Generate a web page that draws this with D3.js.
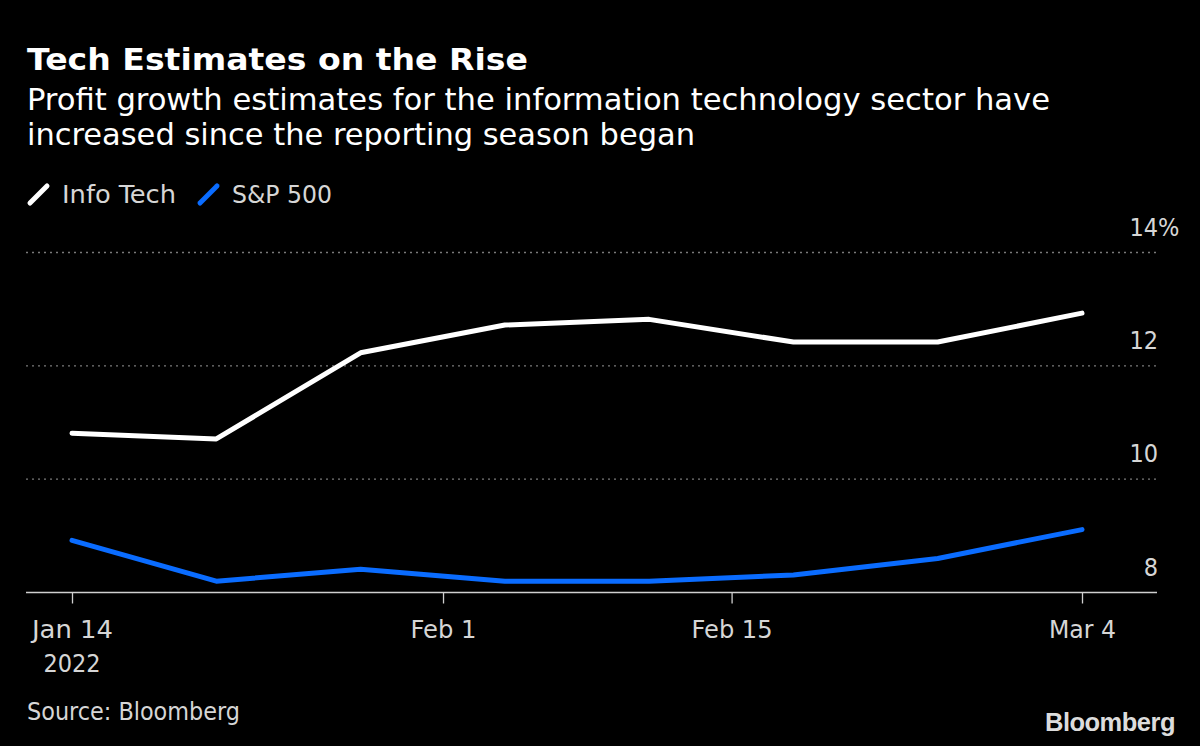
<!DOCTYPE html>
<html>
<head>
<meta charset="utf-8">
<script src="https://cdn.jsdelivr.net/npm/d3@7/dist/d3.min.js"></script>
<style>
  html, body { margin: 0; padding: 0; background: #000; }
  svg { display: block; }
</style>
</head>
<body>
<svg id="chart" width="1200" height="746"></svg>
<script>
// ---- data ----
const dates = ["2022-01-14","2022-01-21","2022-01-28","2022-02-04","2022-02-11","2022-02-18","2022-02-25","2022-03-04"];
const infoTech = [10.81, 10.71, 12.23, 12.72, 12.82, 12.42, 12.42, 12.93];
const sp500    = [8.92, 8.20, 8.41, 8.20, 8.20, 8.31, 8.60, 9.11];
const yTicks = [8, 10, 12, 14];
const xTickDates = ["2022-01-14","2022-02-01","2022-02-15","2022-03-04"];
const xTickLabels = ["Jan 14","Feb 1","Feb 15","Mar 4"];
const seriesNames = ["Info Tech","S&P 500"];
const seriesColors = ["#ffffff","#0a6cff"];

const xTickWidths = [81, 66, 81, 67];

const parse = d3.utcParse("%Y-%m-%d");
const svg = d3.select("#chart");
svg.append("rect").attr("width",1200).attr("height",746).attr("fill","#000");

const x = d3.scaleUtc().domain([parse("2022-01-14"), parse("2022-03-04")]).range([72, 1082]);
const y = d3.scaleLinear().domain([8, 14]).range([592.5, 252.5]);
const plotLeft = 26, plotRight = 1157;

const fontC = "'DejaVu Sans Condensed','DejaVu Sans',sans-serif";

function fit(sel, w) {
  const n = sel.node();
  const cur = n.getComputedTextLength();
  if (Math.abs(cur - w) > 1) {
    sel.attr("textLength", w).attr("lengthAdjust", "spacingAndGlyphs");
  }
  return sel;
}

// title
fit(svg.append("text").attr("x",27).attr("y",70)
  .attr("font-family","'DejaVu Sans',sans-serif").attr("font-weight","bold")
  .attr("font-size",31).attr("fill","#fff").text("Tech Estimates on the Rise"), 501);
fit(svg.append("text").attr("x",27).attr("y",110)
  .attr("font-family",fontC).attr("font-size",30).attr("fill","#fff")
  .text("Profit growth estimates for the information technology sector have"), 1023);
fit(svg.append("text").attr("x",27).attr("y",145)
  .attr("font-family",fontC).attr("font-size",30).attr("fill","#fff")
  .text("increased since the reporting season began"), 668);

// legend
const legendPos = [{sx:30, tx:62, tw:114}, {sx:200, tx:232, tw:100}];
seriesNames.forEach((name,i) => {
  const p = legendPos[i];
  svg.append("line").attr("x1",p.sx).attr("y1",203).attr("x2",p.sx+17).attr("y2",186)
    .attr("stroke",seriesColors[i]).attr("stroke-width",5).attr("stroke-linecap","round");
  fit(svg.append("text").attr("x",p.tx).attr("y",203).attr("font-family",fontC)
    .attr("font-size",25).attr("fill","#d6d6d6").text(name), p.tw);
});

// gridlines
const g = svg.append("g");
g.selectAll("line.grid").data(yTicks.filter(t => t > 8)).join("line")
  .attr("class","grid")
  .attr("x1",plotLeft).attr("x2",plotRight)
  .attr("y1",d=>y(d)).attr("y2",d=>y(d))
  .attr("stroke","#7a7a7a").attr("stroke-width",1.3).attr("stroke-dasharray","2,4");

// y labels
g.selectAll("text.ylab").data(yTicks).join("text")
  .attr("class","ylab")
  .attr("x",1158).attr("y",d=>y(d)-17)
  .attr("text-anchor","end")
  .attr("font-family",fontC).attr("font-size",25).attr("fill","#d6d6d6")
  .text(d=>d);
svg.append("text").attr("x",1158).attr("y",y(14)-17)
  .attr("font-family",fontC).attr("font-size",25).attr("fill","#d6d6d6").text("%");

// x axis
const xAxis = d3.axisBottom(x)
  .tickValues(xTickDates.map(parse))
  .tickFormat((d,i)=>xTickLabels[i])
  .tickSize(11).tickSizeOuter(0).tickPadding(12);
const ax = svg.append("g").attr("transform",`translate(0,${y(8)})`).call(xAxis);
ax.select(".domain").remove();
ax.selectAll(".tick line").attr("stroke","#cfcfcf").attr("stroke-width",1.3);
ax.selectAll(".tick text").attr("fill","#d6d6d6").attr("font-family",fontC).attr("font-size",25)
  .attr("dy",null).attr("y",45.5)
  .each(function(d,i){ fit(d3.select(this), xTickWidths[i]); });
svg.append("line").attr("x1",plotLeft).attr("x2",plotRight).attr("y1",y(8)).attr("y2",y(8))
  .attr("stroke","#cfcfcf").attr("stroke-width",1.5);
fit(svg.append("text").attr("x",x(parse("2022-01-14"))).attr("y",672).attr("text-anchor","middle")
  .attr("font-family",fontC).attr("font-size",25).attr("fill","#d6d6d6").text("2022"), 58);

// lines
const line = d3.line().x((d,i)=>x(parse(dates[i]))).y(d=>y(d));
[infoTech, sp500].forEach((vals,i) => {
  svg.append("path").datum(vals).attr("d",line)
    .attr("fill","none").attr("stroke",seriesColors[i]).attr("stroke-width",5)
    .attr("stroke-linecap","round").attr("stroke-linejoin","round");
});

// footer
fit(svg.append("text").attr("x",27).attr("y",720).attr("font-family",fontC)
  .attr("font-size",24).attr("fill","#d6d6d6").text("Source: Bloomberg"), 213);
fit(svg.append("text").attr("x",1175).attr("y",731).attr("text-anchor","end")
  .attr("font-family","'Liberation Sans',Arial,sans-serif").attr("font-weight","bold")
  .attr("font-size",25).attr("fill","#dcdcdc").attr("letter-spacing","-0.5").text("Bloomberg"), 130);
</script>
</body>
</html>
